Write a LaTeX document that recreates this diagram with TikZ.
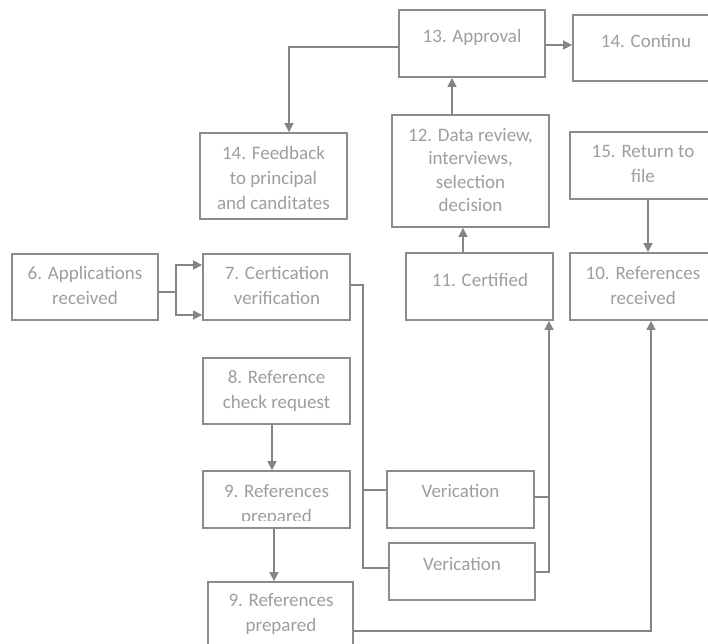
\documentclass[tikz,border=0pt]{standalone}
\usepackage{fontspec}
\setmainfont{Carlito}
\usetikzlibrary{arrows.meta}
\definecolor{boxgray}{HTML}{8C8C8C}
\definecolor{linegray}{HTML}{858585}
\definecolor{txtgray}{HTML}{9E9E9E}
\tikzset{
  box/.style={draw=boxgray, line width=1.8pt, inner sep=0pt, fill=white},
  lbl/.style={text=txtgray, align=center, inner sep=0pt,
    font=\fontsize{19}{25}\selectfont},
  conn/.style={draw=linegray, line width=1.6pt},
  arr/.style={conn, -{Triangle[length=9pt,width=9pt]}}
}
\begin{document}
\begin{tikzpicture}[x=1pt,y=-1pt]
\useasboundingbox (0,0) rectangle (708,643);

% process boxes
\node[box, minimum width=146, minimum height=67] (appr) at (472,43.5) {};
\node[box, minimum width=146, minimum height=66] (cont) at (646,48) {};
\node[box, minimum width=147, minimum height=86] (fb) at (273.5,176) {};
\node[box, minimum width=157, minimum height=112] (dr) at (470.5,171) {};
\node[box, minimum width=146, minimum height=67] (ret) at (643,165.5) {};
\node[box, minimum width=147, minimum height=67] (cert) at (479.5,286.5) {};
\node[box, minimum width=146, minimum height=67] (refr) at (643,286.5) {};
\node[box, minimum width=146, minimum height=66] (app) at (85,287) {};
\node[box, minimum width=147, minimum height=66] (cv) at (276.5,287) {};
\node[box, minimum width=147, minimum height=66] (rcr) at (276.5,391) {};
\node[box, minimum width=147, minimum height=57] (rp1) at (276.5,499.5) {};
\node[box, minimum width=145, minimum height=78] (rp2) at (280.5,621) {};
\node[box, minimum width=147, minimum height=57] (v1) at (460.5,499.5) {};
\node[box, minimum width=146, minimum height=57] (v2) at (462,571.5) {};

% box texts
\node[lbl] (appr-t) at (472,37) {13. Approval};
\node[lbl] (cont-t) at (646,41) {14. Continu};
\node[lbl] (fb-t) at (273.5,178) {14. Feedback\\to principal\\and canditates};
\node[lbl, font=\fontsize{19}{23.5}\selectfont] (dr-t) at (470.5,170) {12. Data review,\\interviews,\\selection\\decision};
\node[lbl] (ret-t) at (643,164) {15. Return to\\file};
\node[lbl] (cert-t) at (480,280) {11. Certified};
\node[lbl] (refr-t) at (643,286) {10. References\\received};
\node[lbl] (app-t) at (85,285.5) {6. Applications\\received};
\node[lbl] (cv-t) at (277,285.5) {7. Certication\\verification};
\node[lbl] (rcr-t) at (276.5,391) {8. Reference\\check request};
% the second line of this label is cut off by its frame
\begin{scope}
  \clip (204,472) rectangle (349,520.5);
  \node[lbl] (rp1-t) at (276.5,505) {9. References\\prepared};
\end{scope}
\node[lbl] (rp2-t) at (281,614.5) {9. References\\prepared};
\node[lbl] (v1-t) at (460.5,491) {Verication};
\node[lbl] (v2-t) at (462,564) {Verication};

% connectors
\coordinate (fork) at (176,292);
\draw[conn] (app.east |- fork) -- (fork);
\draw[arr] (fork) |- (cv.west |- 0,265);
\draw[arr] (fork) |- (cv.west |- 0,315);

\draw[arr] (appr.east |- 0,45) -- (cont.west |- 0,45);
\draw[arr] (appr.west |- 0,47) -| (fb.north -| 289,0);
\draw[arr] (dr.north -| 452,0) -- (appr.south -| 452,0);
\draw[arr] (cert.north -| 463,0) -- (dr.south -| 463,0);
\draw[arr] (ret.south -| 648,0) -- (refr.north -| 648,0);

\coordinate (bus) at (363,285);
\draw[conn] (cv.east |- bus) -- (bus) |- (v2.west |- 0,568);
\draw[conn] (bus |- 0,490) -- (v1.west |- 0,490);
\draw[conn] (v1.east |- 0,497) -- (549,497);
\draw[arr] (v2.east |- 0,572) -| (cert.south -| 549,0);

\draw[arr] (rcr.south -| 272,0) -- (rp1.north -| 272,0);
\draw[arr] (rp1.south -| 274,0) -- (rp2.north -| 274,0);
\draw[arr] (rp2.east |- 0,631) -| (refr.south -| 651,0);
\end{tikzpicture}
\end{document}
